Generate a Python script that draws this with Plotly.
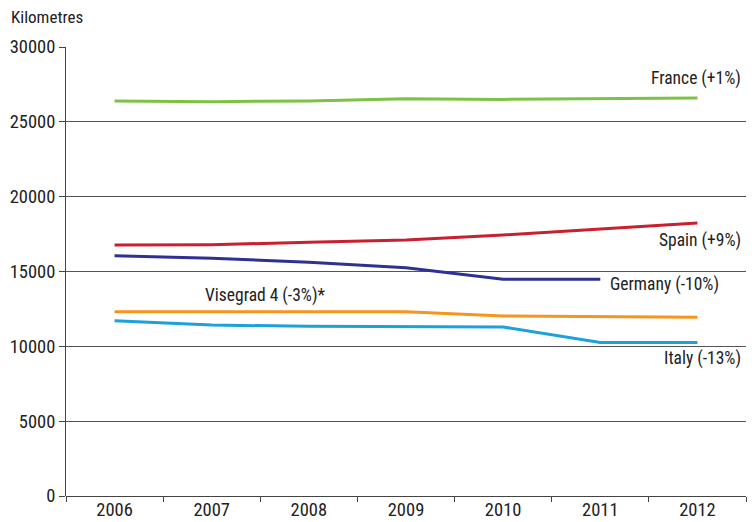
import plotly.graph_objects as go

years = ["2006", "2007", "2008", "2009", "2010", "2011", "2012"]
france = [26400, 26350, 26400, 26550, 26500, 26550, 26600]
spain = [16770, 16790, 16950, 17100, 17440, 17840, 18240]
germany = [16050, 15880, 15620, 15250, 14480, 14480]
visegrad = [12310, 12310, 12310, 12310, 12030, 12000, 11940]
italy = [11710, 11420, 11340, 11340, 11290, 10260, 10250]

series = [
    ("France (+1%)", france, "#7dc242"),
    ("Spain (+9%)", spain, "#c8202f"),
    ("Germany (-10%)", germany, "#2e3192"),
    ("Visegrad 4 (-3%)*", visegrad, "#f7941d"),
    ("Italy (-13%)", italy, "#1ba1dc"),
]

FONT = "Liberation Sans Narrow, Roboto Condensed, DejaVu Sans Condensed, sans-serif"

fig = go.Figure()
for name, vals, col in series:
    fig.add_trace(go.Scatter(x=years[:len(vals)], y=vals, mode="lines", name=name,
                             line=dict(color=col, width=3), showlegend=False))

# labels: (text, xpaper, y value, anchor)
labels = [
    ("France (+1%)", 0.996, 27870, "right"),
    ("Spain (+9%)", 0.996, 17040, "right"),
    ("Germany (-10%)", 0.797, 14100, "left"),
    ("Visegrad 4 (-3%)*", 0.293, 13430, "center"),
    ("Italy (-13%)", 0.996, 9220, "right"),
]
for t, xp, yv, anc in labels:
    fig.add_annotation(text=t, x=xp, xref="paper", y=yv, yref="y", xanchor=anc,
                       yanchor="middle", showarrow=False,
                       font=dict(family=FONT, size=17.5, color="#222"))

fig.add_annotation(text="Kilometres", x=(9 - 66) / 680, xref="paper", xanchor="left",
                   y=(496 - 17) / 449, yref="paper", yanchor="middle",
                   showarrow=False, font=dict(family=FONT, size=17, color="#222"))

fig.update_layout(
    width=752, height=522,
    margin=dict(l=66, r=6, t=47, b=26, autoexpand=False),
    plot_bgcolor="white", paper_bgcolor="white",
    font=dict(family=FONT, size=16, color="#222"),
    xaxis=dict(type="category", tickson="boundaries", ticks="outside", ticklen=5,
               tickcolor="#444", showgrid=False, showline=False, zeroline=False,
               tickfont=dict(size=18.5), range=[-0.5, 6.5], automargin=False),
    yaxis=dict(range=[0, 30000], tickvals=[0, 5000, 10000, 15000, 20000, 25000, 30000],
               ticktext=["0", "5000", "10000", "15000", "20000", "25000", "30000"],
               showgrid=True, gridcolor="#555", gridwidth=1, ticks="outside", ticklen=6,
               tickcolor="#444", showline=True, linecolor="#444", linewidth=1,
               zeroline=True, zerolinecolor="#444", zerolinewidth=1,
               tickfont=dict(size=18.5), automargin=False),
)

fig.write_html("out.html", config={"displayModeBar": False},
               post_script="document.body.style.margin='0';document.body.style.overflow='hidden';")
